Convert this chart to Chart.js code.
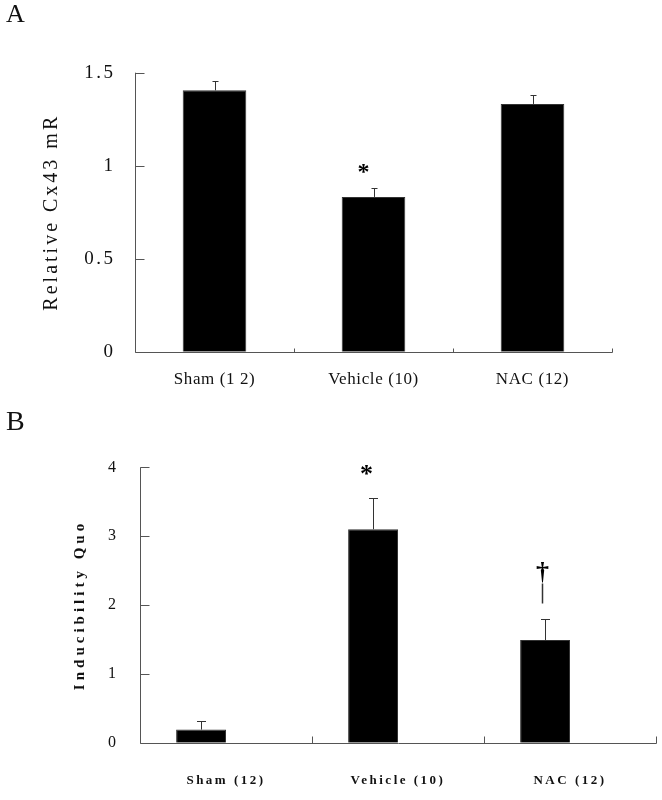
<!DOCTYPE html>
<html><head><meta charset="utf-8">
<script src="https://cdn.jsdelivr.net/npm/chart.js@4.4.1/dist/chart.umd.min.js"></script>
<style>
html,body{margin:0;padding:0;background:#fff;}
#wrap{position:relative;width:662px;height:800px;overflow:hidden;background:#fff;}
.cv{position:absolute;left:0;width:662px;height:400px;}
.cv canvas{display:block;}
.panel{position:absolute;font-family:'Liberation Serif','Times New Roman',serif;color:#111;line-height:1;}
</style></head><body>
<div id="wrap">
  <div class="cv" style="top:0"><canvas id="chartA" width="662" height="400"></canvas></div>
  <div class="cv" style="top:400px"><canvas id="chartB" width="662" height="400"></canvas></div>
  <div class="panel" style="left:6px;top:1px;font-size:26px">A</div>
  <div class="panel" style="left:6px;top:407px;font-size:28px">B</div>
</div>
<script>
// ---- Data ----
const categoriesA = ['Sham (1 2)', 'Vehicle (10)', 'NAC (12)'];
const valuesA = [1.405, 0.832, 1.332];
const errorsA = [0.05, 0.05, 0.05];
const marksA = ['', '*', ''];
const yTicksA = [0, 0.5, 1, 1.5];

const categoriesB = ['Sham (12)', 'Vehicle (10)', 'NAC (12)'];
const valuesB = [0.19, 3.10, 1.49];
const errorsB = [0.13, 0.45, 0.31];
const marksB = ['', '*', '\u2020'];
const yTicksB = [0, 1, 2, 3, 4];

const SERIF = "'Liberation Serif','Times New Roman',serif";
Chart.defaults.font.family = SERIF;
Chart.defaults.color = '#111';

// letter spacing for scale text
const spacingPlugin = {
  id: 'spacing',
  beforeDraw(chart, args, o) {
    for (const s of Object.values(chart.scales)) {
      if (s.__sp) continue;
      s.__sp = true;
      const cfg = o[s.id] || {};
      const dl = s.drawLabels, dt = s.drawTitle;
      s.drawLabels = function (...a) {
        const c = this.ctx, p = c.letterSpacing;
        c.letterSpacing = cfg.ticks || '0px'; dl.apply(this, a); c.letterSpacing = p;
      };
      s.drawTitle = function (...a) {
        const c = this.ctx, p = c.letterSpacing;
        c.letterSpacing = cfg.title || '0px'; dt.apply(this, a); c.letterSpacing = p;
      };
    }
  }
};

// axis lines with inward ticks
const axisPlugin = {
  id: 'axisMarks',
  afterDraw(chart, args, o) {
    const {ctx, chartArea: a, scales: {x, y}} = chart;
    ctx.save();
    ctx.strokeStyle = o.color; ctx.lineWidth = 1;
    ctx.beginPath();
    const lx = Math.round(a.left) + 0.5;
    const by = Math.round(a.bottom) + 0.5;
    ctx.moveTo(lx, y.getPixelForValue(y.max)); ctx.lineTo(lx, by);
    ctx.moveTo(lx, by); ctx.lineTo(Math.round(a.right) + 0.5, by);
    y.ticks.forEach(t => {
      const py = Math.round(y.getPixelForValue(t.value)) + 0.5;
      ctx.moveTo(lx, py); ctx.lineTo(lx + o.yTick, py);
    });
    for (let i = 0; i < x.ticks.length; i++) {
      const px = Math.round(x.getPixelForValue(i + 0.5)) + 0.5;
      ctx.moveTo(px, by); ctx.lineTo(px, by - o.xTick);
    }
    ctx.stroke();
    ctx.restore();
  }
};

// error bars + significance marks
const errPlugin = {
  id: 'errbars',
  afterDatasetsDraw(chart, args, o) {
    const {ctx} = chart;
    const ds = chart.data.datasets[0];
    const meta = chart.getDatasetMeta(0);
    const y = chart.scales.y;
    ctx.save();
    ctx.strokeStyle = o.color; ctx.lineWidth = 1;
    meta.data.forEach((bar, i) => {
      const v = ds.data[i], e = ds.errors[i];
      const bx = Math.round(bar.x) + 0.5;
      const y0 = y.getPixelForValue(v);
      const y1 = Math.round(y.getPixelForValue(v + e)) + 0.5;
      ctx.beginPath();
      ctx.moveTo(bx, y0); ctx.lineTo(bx, y1);
      ctx.moveTo(bx - o.cap, y1); ctx.lineTo(bx + o.cap, y1);
      ctx.stroke();
      const m = ds.marks[i];
      if (m && o.marks[m]) {
        const st = o.marks[m];
        ctx.fillStyle = '#000';
        ctx.font = st.font;
        ctx.textAlign = 'center';
        ctx.textBaseline = 'alphabetic';
        ctx.fillText(m, bx + st.dx, y1 + st.dy);
        if (st.stem) {
          ctx.beginPath();
          ctx.lineWidth = 1.5;
          ctx.moveTo(bx + st.dx, y1 + st.stem[0]);
          ctx.lineTo(bx + st.dx, y1 + st.stem[1]);
          ctx.stroke();
          ctx.lineWidth = 1;
        }
      }
    });
    ctx.restore();
  }
};

function makeChart(id, cfg) {
  return new Chart(document.getElementById(id), {
    type: 'bar',
    data: {
      labels: cfg.categories,
      datasets: cfg.datasets
    },
    options: {
      responsive: false,
      animation: false,
      layout: {padding: {top: cfg.padTop, right: cfg.padRight, left: 0, bottom: 0}},
      plugins: {
        legend: {display: false},
        tooltip: {enabled: false},
        spacing: cfg.spacing,
        axisMarks: {color: '#555', yTick: 9, xTick: cfg.xTick},
        errbars: {color: '#333', cap: cfg.cap, marks: cfg.marks}
      },
      scales: {
        x: {
          offset: true,
          grid: {display: false, drawTicks: false},
          border: {display: false},
          ticks: {padding: cfg.xPad, font: cfg.xFont, color: '#111', maxRotation: 0, autoSkip: false},
          afterFit: s => { s.height = cfg.xHeight; }
        },
        y: {
          min: cfg.yTicks[0], max: cfg.yTicks[cfg.yTicks.length - 1],
          grid: {display: false, drawTicks: false},
          border: {display: false},
          afterBuildTicks: s => { s.ticks = cfg.yTicks.map(v => ({value: v})); },
          ticks: {padding: cfg.yPad, font: cfg.yFont, color: '#111', callback: v => String(v)},
          title: {display: true, text: cfg.yTitle, font: cfg.titleFont, color: '#111', padding: {top: cfg.titlePad, bottom: 0}},
          afterFit: s => { s.width = cfg.yWidth; }
        }
      }
    },
    plugins: [spacingPlugin, axisPlugin, errPlugin]
  });
}

makeChart('chartA', {
  categories: categoriesA,
  datasets: [{
    data: valuesA, errors: errorsA, marks: marksA,
    backgroundColor: '#000', borderColor: '#333', borderWidth: 1,
    categoryPercentage: 1.0, barPercentage: 0.4
  }],
  yTicks: yTicksA,
  padTop: 72.7, padRight: 50,
  xHeight: 48.3, yWidth: 135,
  xPad: 18, xFont: {size: 17},
  yPad: 19.5, yFont: {size: 19},
  yTitle: 'Relative Cx43 mR', titleFont: {size: 20}, titlePad: 40,
  spacing: {x: {ticks: '0.6px'}, y: {ticks: '2.5px', title: '3px'}},
  xTick: 4, cap: 3,
  marks: {'*': {font: 'bold 24px ' + SERIF, dx: -11, dy: -10}}
});

makeChart('chartB', {
  categories: categoriesB,
  datasets: [{
    data: valuesB, errors: errorsB, marks: marksB,
    backgroundColor: '#000', borderColor: '#333', borderWidth: 1,
    categoryPercentage: 0.58, barPercentage: 1.0
  }, {
    data: [null, null, null], errors: [0, 0, 0], marks: ['', '', ''],
    backgroundColor: 'rgba(0,0,0,0)',
    categoryPercentage: 0.58, barPercentage: 1.0
  }],
  yTicks: yTicksB,
  padTop: 67.3, padRight: 6,
  xHeight: 57.3, yWidth: 140,
  xPad: 30, xFont: {size: 13, weight: 'bold'},
  yPad: 24, yFont: {size: 16},
  yTitle: 'Inducibility Quo', titleFont: {size: 15, weight: 'bold'}, titlePad: 71,
  spacing: {x: {ticks: '2.5px'}, y: {ticks: '0px', title: '4px'}},
  xTick: 7, cap: 4.5,
  marks: {
    '*': {font: 'bold 26px ' + SERIF, dx: -7, dy: -17},
    '\u2020': {font: 'bold 26px ' + SERIF, dx: -3, dy: -40, stem: [-36, -16]}
  }
});
</script>
</body></html>
